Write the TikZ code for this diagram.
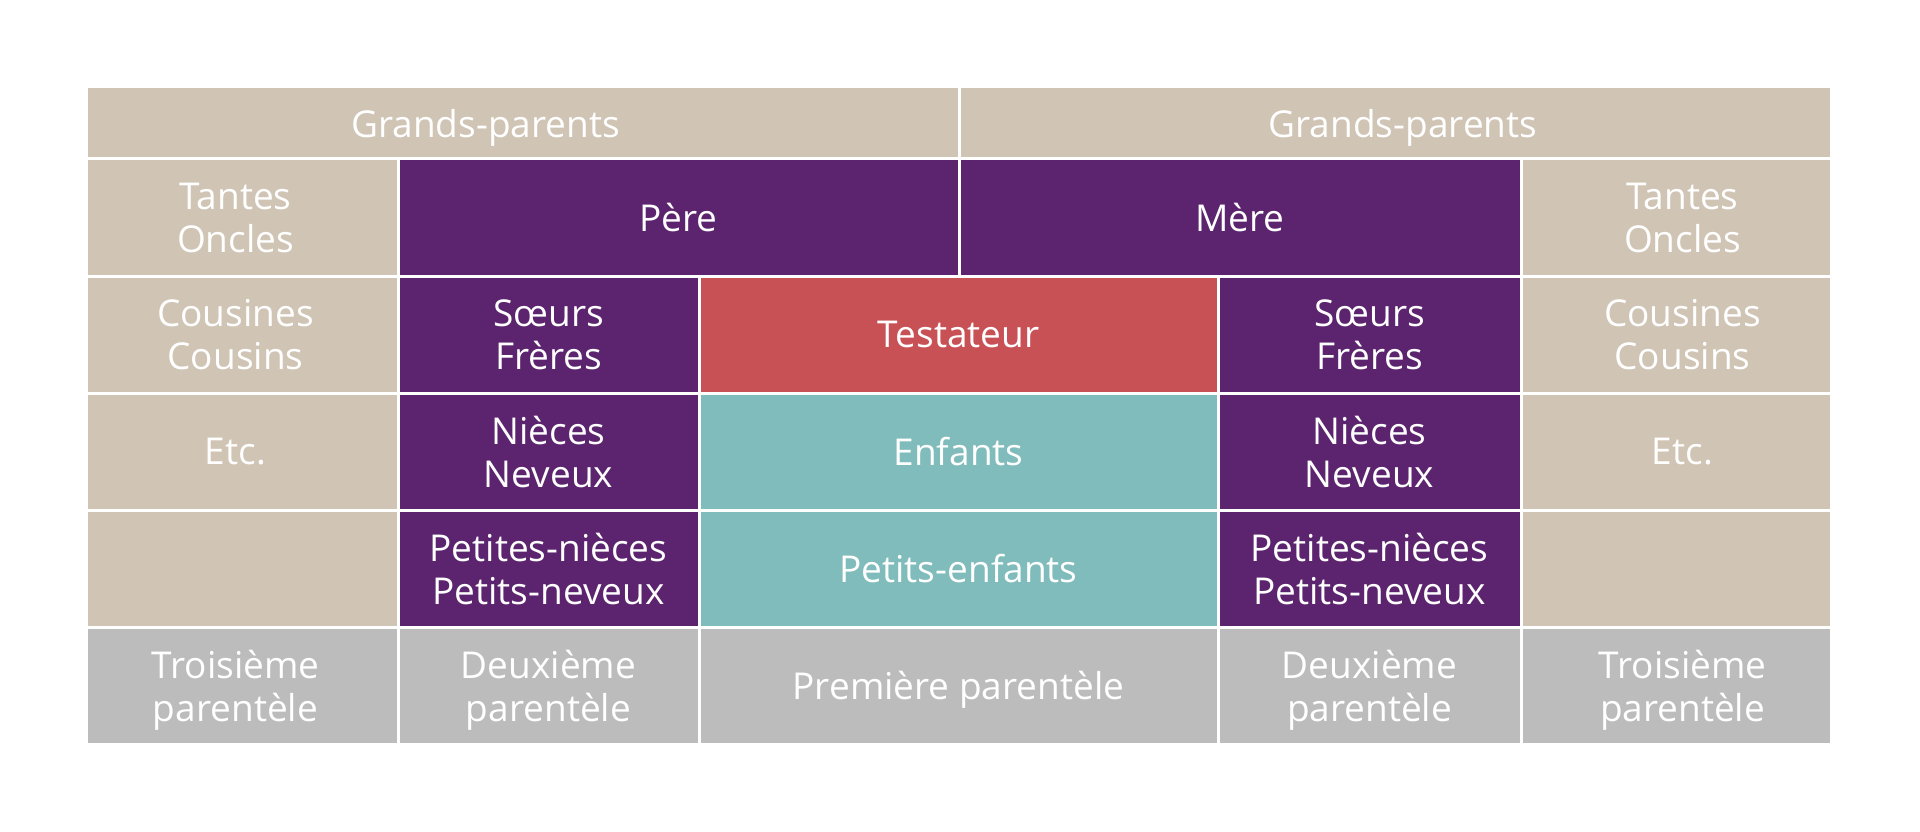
\documentclass[tikz,border=0pt]{standalone}
\usepackage{fontspec}
\setmainfont{Open Sans}
\usepackage{tikz}
\usepackage{xcolor}
\usetikzlibrary{positioning}
\definecolor{parentan}{RGB}{208,196,181}
\definecolor{parenpurple}{RGB}{92,36,110}
\definecolor{testred}{RGB}{200,81,86}
\definecolor{descteal}{RGB}{128,188,187}
\definecolor{rankgrey}{RGB}{188,188,188}
% pads a line so that its text sits off the cell centre
\newcommand{\padleft}[1]{\hspace*{13pt}#1}
\newcommand{\padright}[1]{#1\hspace*{13pt}}

\begin{document}
\begin{tikzpicture}[x=1pt,y=-1pt,
    cell/.style={rectangle,draw=white,line width=3pt,text=white,align=center,
        inner sep=0pt,outer sep=0pt,minimum height=117pt,text depth=0pt,
        font=\fontsize{37}{43}\selectfont},
    tan/.style={cell,fill=parentan},
    purple/.style={cell,fill=parenpurple},
    grey/.style={cell,fill=rankgrey}]
    \useasboundingbox (0,0) rectangle (1920,832);

    % Grands-parents
    \node[tan,minimum width=873pt,minimum height=72pt] (gpL) at (522.5,123) {Grands-parents\hspace*{74pt}};
    \node[tan,minimum width=872pt,minimum height=72pt] (gpR) at (1395,123) {\hspace*{16pt}Grands-parents};

    % Parents, tantes et oncles
    \node[tan,minimum width=312pt] (onclesL) at (242,217.5) {\padright{Tantes}\\\padright{Oncles}};
    \node[purple,minimum width=561pt] (pere) at (678.5,217.5) {Père};
    \node[purple,minimum width=562pt] (mere) at (1240,217.5) {Mère};
    \node[tan,minimum width=310pt] (onclesR) at (1676,217.5) {\padleft{Tantes}\\\padleft{Oncles}};

    % Testateur
    \node[tan,minimum width=312pt] (cousinsL) at (242,334.5) {\padright{Cousines}\\\padright{Cousins}};
    \node[purple,minimum width=301pt] (freresL) at (548.5,334.5) {Sœurs\\Frères};
    \node[cell,fill=testred,minimum width=519pt] (testateur) at (958.5,334.5) {Testateur};
    \node[purple,minimum width=303pt] (freresR) at (1369.5,334.5) {Sœurs\\Frères};
    \node[tan,minimum width=310pt] (cousinsR) at (1676,334.5) {\padleft{Cousines}\\\padleft{Cousins}};

    % Descendants
    \node[tan,minimum width=312pt] (etcL) at (242,451.5) {\padright{Etc.}};
    \node[purple,minimum width=301pt] (neveuxL) at (548.5,451.5) {Nièces\\Neveux};
    \node[cell,fill=descteal,minimum width=519pt] (enfants) at (958.5,451.5) {Enfants};
    \node[purple,minimum width=303pt] (neveuxR) at (1369.5,451.5) {Nièces\\Neveux};
    \node[tan,minimum width=310pt] (etcR) at (1676,451.5) {\padleft{Etc.}};

    \node[tan,minimum width=312pt] (videL) at (242,568.5) {};
    \node[purple,minimum width=301pt] (ppneveuxL) at (548.5,568.5) {Petites-nièces\\Petits-neveux};
    \node[cell,fill=descteal,minimum width=519pt] (ptenfants) at (958.5,568.5) {Petits-enfants};
    \node[purple,minimum width=303pt] (ppneveuxR) at (1369.5,568.5) {Petites-nièces\\Petits-neveux};
    \node[tan,minimum width=310pt] (videR) at (1676,568.5) {};

    % Parenteles
    \node[grey,minimum width=312pt] (troisL) at (242,685.5) {\padright{Troisième}\\\padright{parentèle}};
    \node[grey,minimum width=301pt] (deuxL) at (548.5,685.5) {Deuxième\\parentèle};
    \node[grey,minimum width=519pt] (premiere) at (958.5,685.5) {Première parentèle};
    \node[grey,minimum width=303pt] (deuxR) at (1369.5,685.5) {Deuxième\\parentèle};
    \node[grey,minimum width=310pt] (troisR) at (1676,685.5) {\padleft{Troisième}\\\padleft{parentèle}};
\end{tikzpicture}
\end{document}
